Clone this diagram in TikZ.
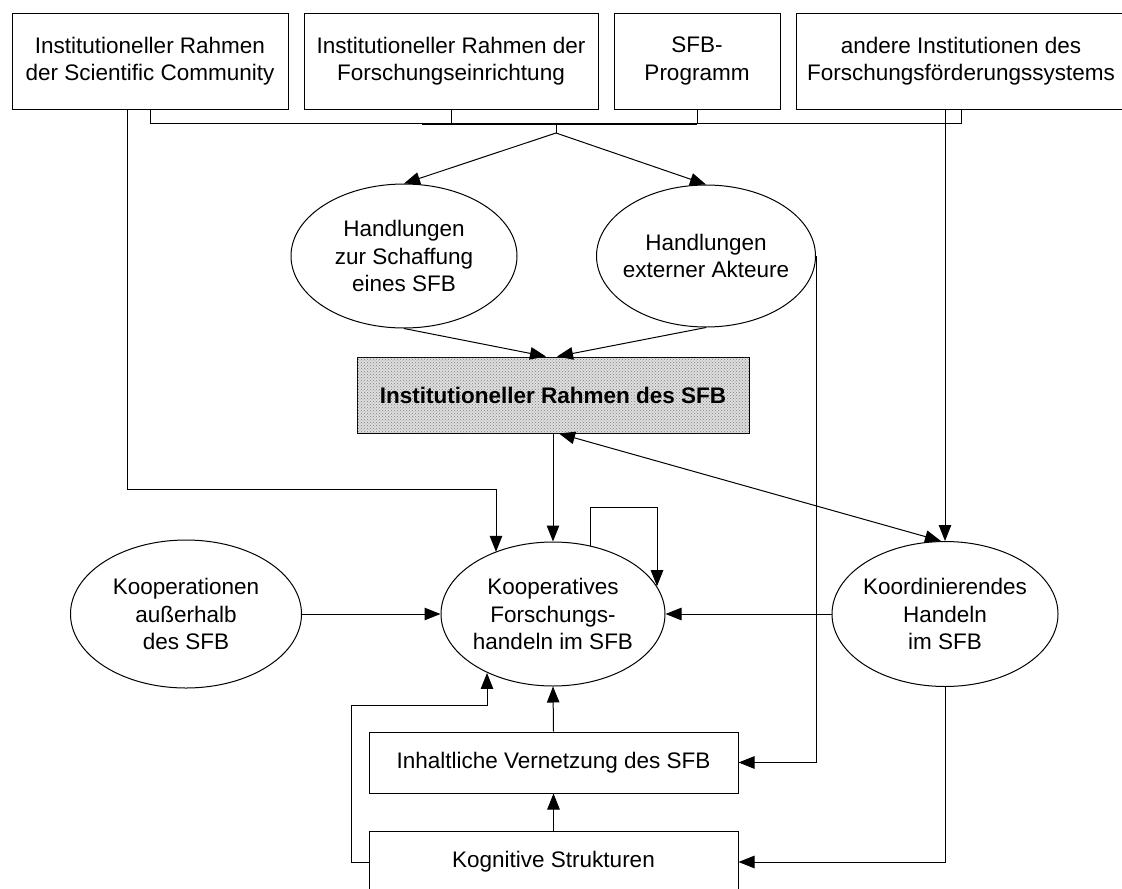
\documentclass[tikz,border=0pt]{standalone}
\usepackage{fontspec}
\setmainfont{Liberation Sans}
\usetikzlibrary{shapes.geometric,arrows.meta,patterns}
\begin{document}
\begin{tikzpicture}[x=1pt,y=-1pt,line width=1pt,
  lbl/.style={font=\fontsize{22.5}{27.5}\selectfont},
  box/.style={draw,rectangle,inner sep=0pt,align=center,lbl},
  oval/.style={draw,ellipse,inner sep=0pt},
  txt/.style={align=center,inner sep=0pt,lbl},
  tipx/.tip={Triangle[length=16pt,width=12.5pt]},
  arr/.style={-tipx}]
\useasboundingbox (0,0) rectangle (1122,889);
\clip (0,0) rectangle (1122,889);

% top boxes
\node[box,minimum width=276pt,minimum height=96pt] (b1) at (150,61) {Institutioneller Rahmen\\der Scientific Community};
\node[box,minimum width=294pt,minimum height=96pt] (b2) at (451,61) {Institutioneller Rahmen der\\Forschungseinrichtung};
\node[box,minimum width=166pt,minimum height=96pt] (b3) at (697,61) {SFB-\\Programm};
\node[box,minimum width=330pt,minimum height=96pt] (b4) at (961,61) {andere Institutionen des\\Forschungsförderungssystems};

% ellipses
\node[oval,minimum width=226pt,minimum height=144pt] (schaff) at (404,256) {};
\node[txt] (schaffT) at (schaff) {Handlungen\\zur Schaffung\\eines SFB};
\node[oval,minimum width=219pt,minimum height=142pt] (extern) at (706,256) {};
\node[txt] (externT) at (extern) {Handlungen\\externer Akteure};
\node[oval,minimum width=224pt,minimum height=144pt] (koop) at (553,614) {};
\node[txt] (koopT) at (koop) {Kooperatives\\Forschungs-\\handeln im SFB};
\node[oval,minimum width=231pt,minimum height=148pt] (koopa) at (186,614) {};
\node[txt] (koopaT) at (koopa) {Kooperationen\\außerhalb\\des SFB};
\node[oval,minimum width=226pt,minimum height=145pt] (koord) at (945,614) {};
\node[txt] (koordT) at (koord) {Koordinierendes\\Handeln\\im SFB};

% central shaded box
\node[draw,fill=black!13,postaction={pattern=crosshatch dots,pattern color=black!50},
  minimum width=392pt,minimum height=76pt,inner sep=0pt,
  font=\bfseries\fontsize{22.5}{27.5}\selectfont] (rahmen) at (553,395) {Institutioneller Rahmen des SFB};

% bottom boxes
\node[box,minimum width=369pt,minimum height=61pt] (inh) at (553.5,762.5) {Inhaltliche Vernetzung des SFB};
\node[box,minimum width=369pt,minimum height=62pt] (kog) at (553.5,862) {Kognitive Strukturen};

% bracket under top boxes
\draw (b1.south) -- ++(0,14) coordinate (brL) -| (b4.south);
\draw (b2.south) -- (b2.south |- brL);
\draw (b3.south) -- (b3.south |- brL);
\draw[line width=2pt] (brL -| 422,0) -- (brL -| b3.south);
\coordinate (apex) at (556,133);
\draw (apex |- brL) -- (apex);
\draw[arr] (apex) -- (schaff.north);
\draw[arr] (apex) -- (extern.north);

% into the shaded box
\draw[arr] (schaff.south) -- ([xshift=-7pt]rahmen.north);
\draw[arr] (extern.south) -- ([xshift=4pt]rahmen.north);
\draw[arr] (rahmen.south) -- (koop.north);
\draw[tipx-tipx] ([xshift=6pt]rahmen.south) -- ([xshift=-4pt]koord.north);

% long lines from top boxes
\draw[arr] (koord.north |- b4.south) -- (koord.north);
\coordinate (kin) at (496,489);
\draw[arr] ([xshift=-23pt]b1.south) |- (kin) -- (kin |- koop.133);

% self loop
\coordinate (lpA) at (657,507);
\draw[arr] (koop.61) |- (lpA) -- (lpA |- koop.15);

% horizontal inputs
\draw[arr] (koopa.east) -- (koop.west);
\draw[arr] (koord.west) -- (koop.east);

% lower connections
\draw[arr] (extern.east) |- (inh.east);
\draw[arr] (koord.south) |- (kog.east);
\coordinate (lpB) at (487,705);
\draw[arr] (kog.west) -- ++(-17,0) |- (lpB) -- (lpB |- koop.222);
\draw[arr] (inh.north) -- (koop.south);
\draw[arr] (kog.north) -- (inh.south);
\end{tikzpicture}
\end{document}
